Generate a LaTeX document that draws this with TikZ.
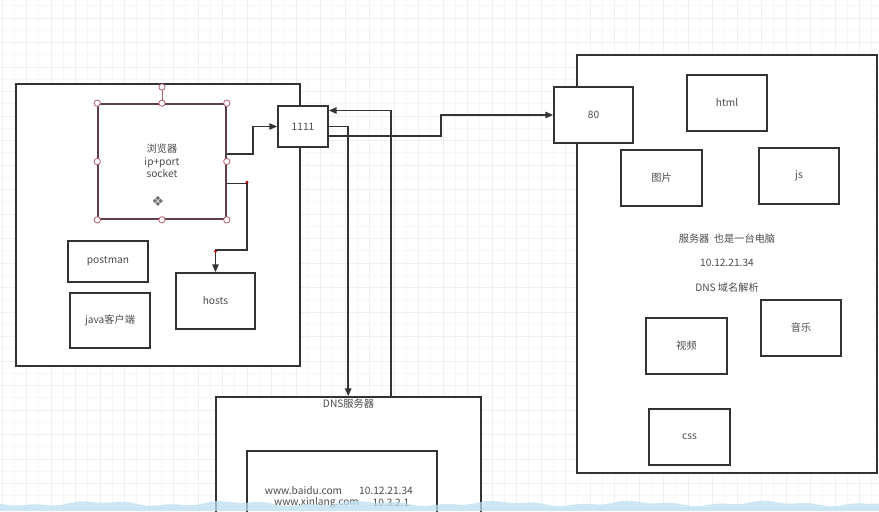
\documentclass[tikz,border=0pt]{standalone}
\usepackage{fontspec}
\setmainfont{Noto Sans CJK SC}
\newfontfamily\symfont{DejaVu Sans}
\usetikzlibrary{arrows.meta,calc,fit}
\definecolor{selframe}{RGB}{95,62,72}
\definecolor{selpink}{RGB}{180,95,110}
\definecolor{wavecolor}{RGB}{188,224,240}

\begin{document}
\begin{tikzpicture}[
  x=0.02cm, y=-0.02cm,
  every node/.style={font=\fontsize{5.8}{7}\selectfont, text=black!70},
  box/.style={draw=black!80, line width=0.9pt, fill=white, inner sep=0pt},
  conn/.style={draw=black!80, line width=0.9pt, -{Triangle[length=4.5pt,width=3.6pt]}},
  handle/.style={circle, draw=selpink, fill=white, line width=0.45pt, inner sep=0pt, minimum size=3.6pt},
  waypt/.style={circle, fill=red!75!black, inner sep=0pt, minimum size=1.8pt},
  gridmajor/.style={black!6, line width=0.35pt},
  gridminor/.style={black!3, line width=0.3pt},
]
\useasboundingbox (0,0) rectangle (879,511);
\clip (0,0) rectangle (879,511);

% Canvas grid
\foreach \gx in {0,...,36} {
  \draw[gridmajor] ({2+\gx*24.5},0) -- ({2+\gx*24.5},511);
  \draw[gridminor] ({14.25+\gx*24.5},0) -- ({14.25+\gx*24.5},511);
}
\foreach \gy in {0,...,21} {
  \draw[gridmajor] (0,{18+(\gy-1)*24.5}) -- (879,{18+(\gy-1)*24.5});
  \draw[gridminor] (0,{30.25+(\gy-1)*24.5}) -- (879,{30.25+(\gy-1)*24.5});
}

%%% Client computer %%%
\node[box, fit={(16,84)(300,366)}] (client) {};
\node[box, draw=selframe, fit={(98,104)(226,219)}] (browser) {};
\node[align=center] (browsertext) at (162,161) {浏览器\\ip+port\\socket};
\node[text=black!55] (moveicon) at (158,201) {\symfont\fontsize{8}{8}\selectfont ❖};
\node[box, fit={(68,241)(148,282)}, label=center:postman] (postman) {};
\node[box, fit={(70,293)(150,348)}, label=center:java客户端] (javaclient) {};
\node[box, fit={(176,273)(255,329)}, label=center:hosts] (hosts) {};

% Selection handles
\draw[selpink, line width=0.45pt] (browser.north) -- (162,87);
\node[handle] (hrot) at (162,87) {};
\foreach \a/\n in {north west/nw, north/n, north east/ne, west/w, east/e, south west/sw, south/s, south east/se}
  \node[handle] (h\n) at (browser.\a) {};

%%% Port and server %%%
\node[box, fit={(278,106)(328,147)}, label=center:1111] (port1111) {};
\node[box, fit={(577,55)(877,473)}] (server) {};
\node[box, fit={(554,87)(633,143)}, label=center:80] (port80) {};
\node[box, fit={(687,75)(767,131)}, label=center:html] (html) {};
\node[box, fit={(621,150)(702,206)}, label=center:图片] (image) {};
\node[box, fit={(759,148)(839,204)}, label=center:js] (js) {};
\node[box, fit={(646,318)(727,374)}, label=center:视频] (video) {};
\node[box, fit={(761,300)(841,356)}, label=center:音乐] (music) {};
\node[box, fit={(649,409)(730,465)}, label=center:css] (css) {};
\node (srvnote) at (727,239) {服务器\ \ 也是一台电脑};
\node (srvip) at (727,263) {10.12.21.34};
\node (srvdns) at (727,288) {DNS 域名解析};

%%% DNS server %%%
\node[box, fit={(216,397)(481,540)},
  label={[anchor=north, inner sep=1.5pt]north:DNS服务器}] (dns) {};
\node[box, fit={(247,451)(437,540)}] (dnstable) {};
\node (rec1name) at (303.5,491) {www.baidu.com};
\node (rec1ip) at (386,491) {10.12.21.34};
\node (rec2name) at (316.5,503) {www.xinlang.com};
\node (rec2ip) at (391,503) {10.3.2.1};

%%% Connectors %%%
\draw[conn] ($(browser.east)+(0,-7.5)$) -- ++(26,0) |- (port1111.west);
\draw[conn] ($(browser.east)+(0,22)$) -| ($(hosts.north)+(31.5,-22)$) -| (hosts.north);
\node[waypt] (wp1) at ($(hosts.north)+(31.5,-90)$) {};
\node[waypt] (wp2) at ($(hosts.north)+(0,-21)$) {};
\draw[conn] (port1111.east) -| ($(dns.north west)+(133,0)$);
\draw[conn] ($(dns.north west)+(176,0)$) |- ($(port1111.east)+(0,-16)$);
\draw[conn] ($(port1111.east)+(0,9.5)$) -- ++(112,0) |- (port80.west);

% Screen edge
\fill[wavecolor, opacity=0.75] (0,511) -- plot[domain=0:879, samples=90]
  (\x, {503.5 + 1.8*sin(\x*2.7) + 1.2*sin(\x*7.9)}) -- (879,511) -- cycle;
\end{tikzpicture}
\end{document}
